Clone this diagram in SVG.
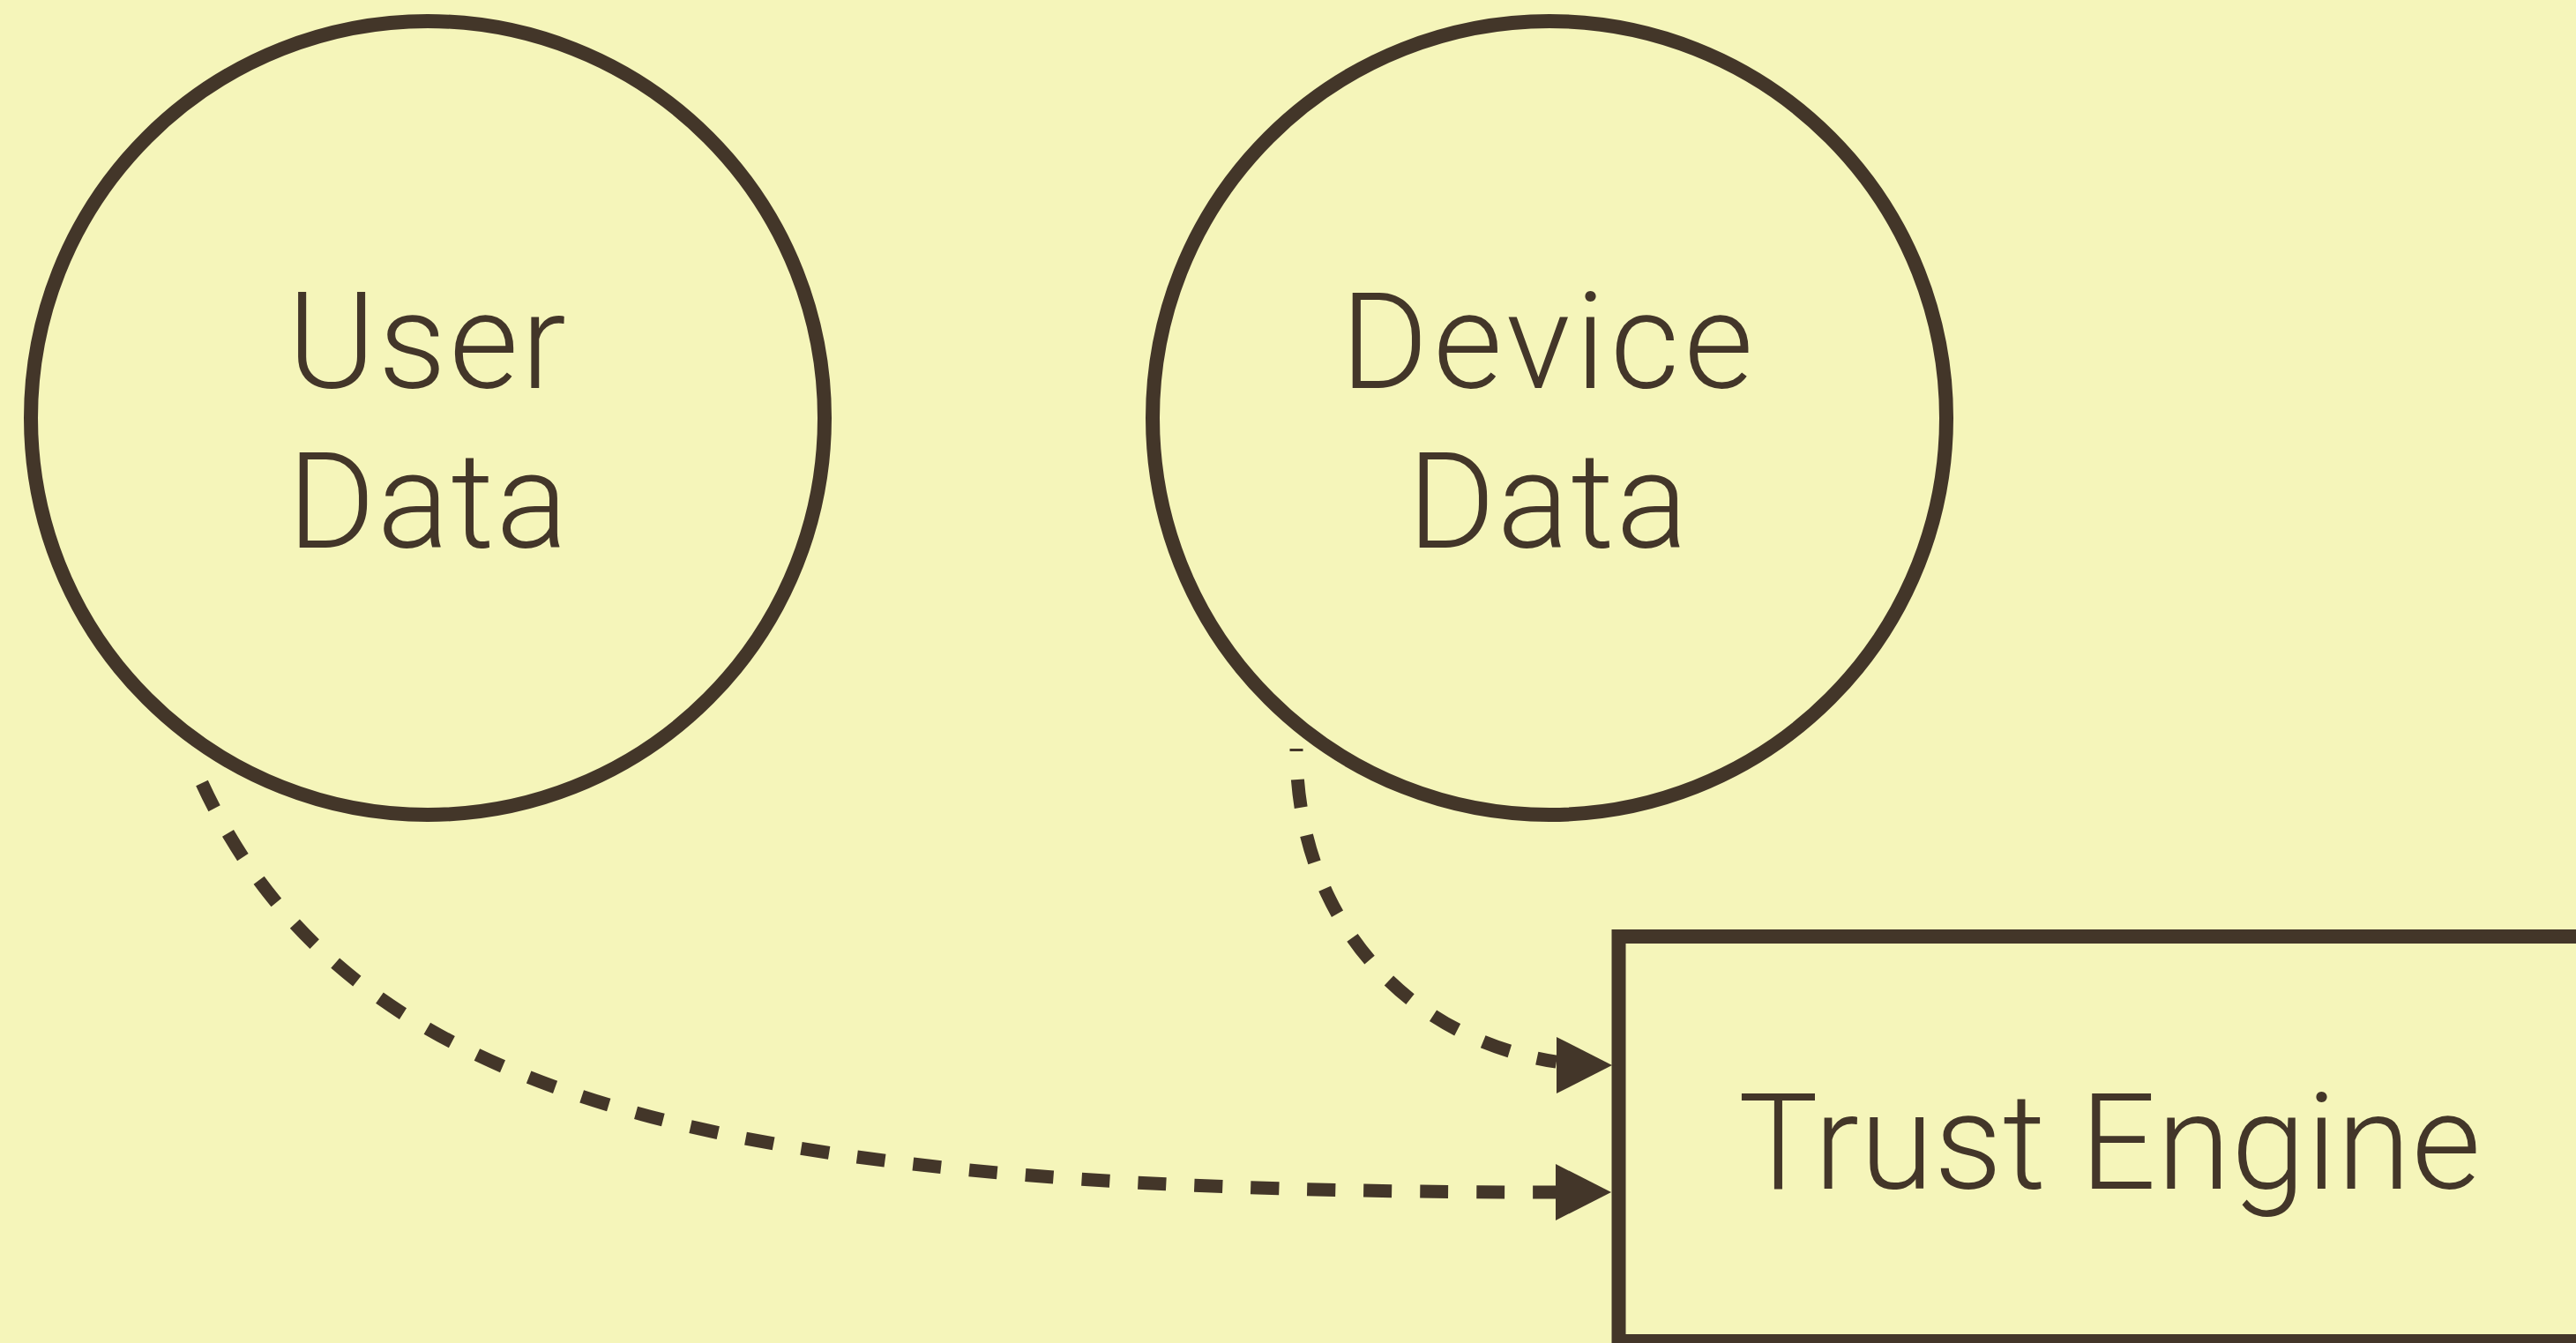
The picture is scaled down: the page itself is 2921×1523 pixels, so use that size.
<svg xmlns="http://www.w3.org/2000/svg" width="2921" height="1523" viewBox="0 0 2921 1523">
<style>
.node{fill:none;stroke:#433629;stroke-width:16}
.lbl{font-family:Roboto,"Liberation Sans",sans-serif;font-weight:300;font-size:152px;fill:#433629;text-anchor:middle}
.edge{fill:none;stroke:#433629;stroke-width:15;stroke-dasharray:32 32}
.head{fill:#433629}
</style>
<defs>
<polygon id="ah" points="0,0 -63,-32 -63,32"/>
</defs>
<rect width="2921" height="1523" fill="#F5F5BA"/>
<g id="user-data">
<circle class="node" cx="485" cy="474" r="450"/>
<text class="lbl" x="484" y="440" textLength="316" lengthAdjust="spacing">User</text>
<text class="lbl" x="485" y="621" textLength="318" lengthAdjust="spacing">Data</text>
</g>
<g id="device-data">
<circle class="node" cx="1757" cy="474" r="450"/>
<text class="lbl" x="1754" y="440" textLength="468" lengthAdjust="spacing">Device</text>
<text class="lbl" x="1755" y="621" textLength="318" lengthAdjust="spacing">Data</text>
</g>
<g id="trust-engine">
<rect class="node" x="1835.5" y="1062" width="1200" height="459"/>
<text class="lbl" x="2392" y="1348" textLength="842" lengthAdjust="spacing">Trust Engine</text>
</g>
<g id="connectors">
<path class="edge" d="M229,888 C404,1269 864,1352 1764,1352"/>
<use class="head" href="#ah" x="1827" y="1352"/>
<path class="edge" stroke-dashoffset="29" d="M1470,849 C1470,1042.8 1594.4,1177.5 1764.9,1204.2"/>
<use class="head" href="#ah" x="1828" y="1208"/>
</g>
</svg>
